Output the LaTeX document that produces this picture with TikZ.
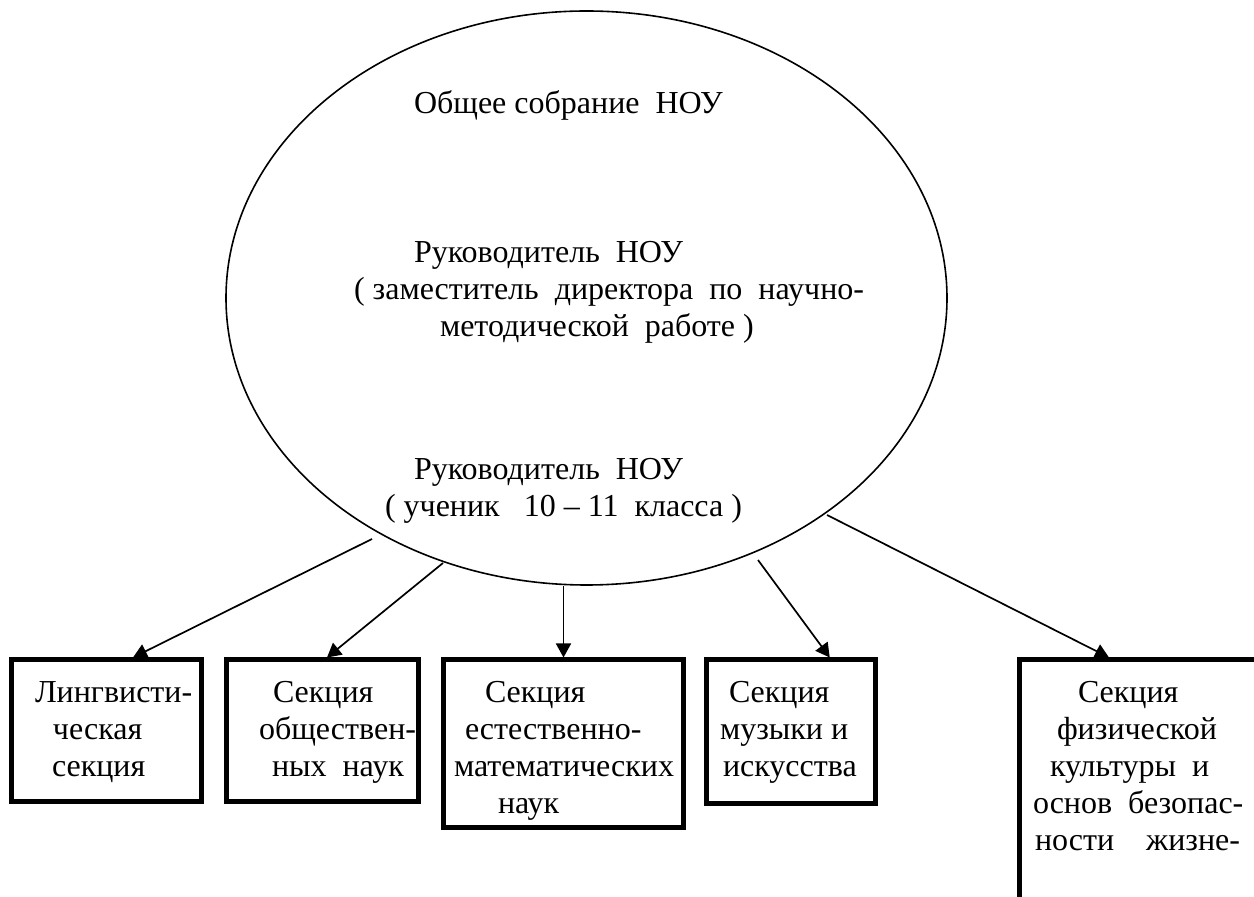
\documentclass[tikz,border=0pt]{standalone}
\usepackage{fontspec}
\setmainfont{LiberationSerif}[Extension=.ttf, UprightFont=*-Regular, BoldFont=*-Bold, ItalicFont=*-Italic, BoldItalicFont=*-BoldItalic]
\usetikzlibrary{arrows.meta,calc,shapes.geometric}
\begin{document}
\begin{tikzpicture}[x=0.5pt,y=-0.5pt,
  txt/.style={anchor=base west, inner sep=0pt, outer sep=0pt, font=\fontsize{16}{18.5}\selectfont},
  secbox/.style={draw, line width=2.5pt, rectangle, inner sep=0pt},
  arr/.style={line width=0.85pt, -{Triangle[length=7pt,width=7.5pt]}}]
\useasboundingbox (0,0) rectangle (1254,897);
\clip (0,0) rectangle (1254,897);
\fill[white] (0,0) rectangle (1254,897);
% central ellipse
\node[draw, ellipse, line width=0.8pt, minimum width=360.5pt, minimum height=287pt, inner sep=0pt] (E) at (586.5,298) {};
\node[txt] (t1) at (414,114) {Общее собрание\ \ НОУ};
\node[txt] (t2) at (414,263) {Руководитель\ \ НОУ};
\node[txt] (t3) at (354,300) {( заместитель\ \ директора\ \ по\ \ научно-};
\node[txt] (t4) at (440,337) {методической\ \ работе )};
\node[txt] (t5) at (414,480) {Руководитель\ \ НОУ};
\node[txt] (t6) at (385,517) {( ученик\ \ \ 10 – 11\ \ класса )};
% section boxes
\node[secbox, minimum width=95pt, minimum height=71pt] (B1) at (106.5,731) {};
\node[secbox, minimum width=96pt, minimum height=71pt] (B2) at (322.5,731) {};
\node[secbox, minimum width=120pt, minimum height=83.75pt] (B3) at (563.5,743.75) {};
\node[secbox, minimum width=84.25pt, minimum height=71.75pt] (B4) at (790.75,731.75) {};
\node[secbox, minimum width=155.25pt, minimum height=150pt] (B5) at (1174.75,810) {};
% box texts
\node[txt] (b1a) at (35,703) {Лингвисти-};
\node[txt] (b1b) at (53,740) {ческая};
\node[txt] (b1c) at (52,777) {секция};
\node[txt] (b2a) at (273,703) {Секция};
\node[txt] (b2b) at (259,740) {обществен-};
\node[txt] (b2c) at (272,777) {ных\ \ наук};
\node[txt] (b3a) at (485,703) {Секция};
\node[txt] (b3b) at (465,740) {естественно-};
\node[txt] (b3c) at (454,777) {математических};
\node[txt] (b3d) at (498,813) {наук};
\node[txt] (b4a) at (729,703) {Секция};
\node[txt] (b4b) at (720,740) {музыки и};
\node[txt] (b4c) at (723,777) {искусства};
\node[txt] (b5a) at (1078,703) {Секция};
\node[txt] (b5b) at (1057,740) {физической};
\node[txt] (b5c) at (1050,777) {культуры\ \ и};
\node[txt] (b5d) at (1033,813) {основ\ \ безопас-};
\node[txt] (b5e) at (1035,850) {ности\ \ \ \ жизне-};
% connectors
\coordinate (s1) at (372,539);
\coordinate (s2) at (443,563);
\coordinate (s4) at (758,560);
\coordinate (s5) at (827,515);
\draw[arr] (s1) -- ($(B1.north)+(26.5,0)$);
\draw[arr] (s2) -- ($(B2.north)+(4.5,0)$);
\draw[arr] (E.south -| B3.north) -- (B3.north);
\draw[arr] (s4) -- ($(B4.north)+(39,0)$);
\draw[arr] (s5) -- ($(B5.north)+(-65.75,0)$);
\end{tikzpicture}
\end{document}
